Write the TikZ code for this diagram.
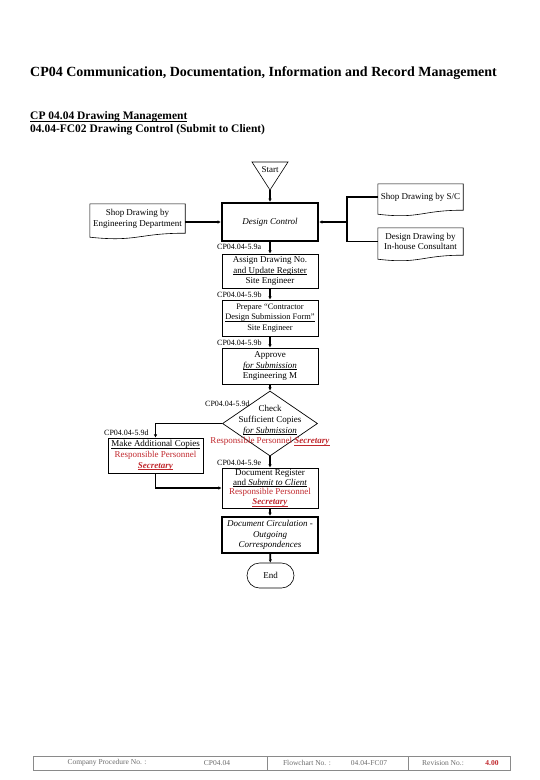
\documentclass[tikz,border=0pt]{standalone}
\usepackage{fontspec}
\setmainfont{Liberation Serif}
\usepackage{tikz}
\usetikzlibrary{arrows.meta,positioning,calc,shapes.geometric,shapes.misc}
\definecolor{respred}{HTML}{C0282D}
\definecolor{footgray}{HTML}{6B6B6B}
\definecolor{footline}{HTML}{8A8A8A}
\newcommand{\boxfont}{\fontsize{9}{10.8}\selectfont}
\newcommand{\ulin}[1]{\underline{\smash{#1}}\vphantom{Ag}}
\newcommand{\resp}{\textcolor{respred}{Responsible Personnel}}
\newcommand{\secy}{\textcolor{respred}{\ulin{\textbf{\textit{Secretary}}}}}
\tikzset{
  pagetitle/.style={font=\fontsize{14}{16}\selectfont\bfseries, inner sep=0pt, anchor=west},
  subhead/.style={font=\fontsize{11.5}{13}\selectfont\bfseries, inner sep=0pt,
    anchor=west, align=left},
  % flow boxes
  stepbox/.style={draw, line width=0.7pt, minimum width=96pt, minimum height=36pt,
    inner sep=0pt, align=center, font=\boxfont},
  keybox/.style={stepbox, line width=2.2pt},
  decision/.style={draw, diamond, line width=0.7pt, minimum width=95pt,
    minimum height=65pt, inner sep=0pt},
  docnode/.style={minimum height=26pt, inner sep=0pt, align=center, font=\boxfont},
  docline/.style={line width=0.6pt},
  terminal/.style={draw, rounded rectangle, line width=0.6pt, minimum width=47pt,
    minimum height=25pt, inner sep=0pt, font=\boxfont},
  plaintext/.style={inner sep=0pt, align=center, font=\boxfont},
  refnote/.style={font=\fontsize{8}{9}\selectfont, inner sep=0pt, anchor=west},
  % connectors
  wire/.style={line width=1.6pt},
  link/.style={wire, -{Latex[length=3.2pt,width=3.4pt]}},
  % footer
  footcell/.style={font=\fontsize{7.5}{9}\selectfont, text=footgray, inner sep=0pt},
  footrule/.style={draw=footline, line width=0.5pt},
}

\begin{document}
\begin{tikzpicture}[x=1pt,y=-1pt]
  \useasboundingbox (0,0) rectangle (540,780);
  % headings
  \node[pagetitle] (title) at (30,73)
    {CP04 Communication, Documentation, Information and Record Management};
  \node[subhead] (subtitle) at (30,123.5)
    {\ulin{CP 04.04 Drawing Management}\\04.04-FC02 Drawing Control (Submit to Client)};

  % start
  \draw[docline] (252,162) -- (288,162) -- (270,190) -- cycle;
  \node[plaintext] (start) at (270,170) {Start};
  \coordinate (starttip) at (270,190);

  % inputs
  \node[docnode, minimum width=95pt, minimum height=29pt] (engdoc) at (137.5,218.5)
    {Shop Drawing by\\Engineering Department};
  \node[docnode, minimum width=85pt] (scdoc) at (420.5,197) {Shop Drawing by S/C};
  \node[docnode, minimum width=85pt, minimum height=27pt] (consdoc) at (420.5,241.5)
    {Design Drawing by\\In-house Consultant};
  \foreach \d in {engdoc,scdoc,consdoc}
    \draw[docline] (\d.north west) -- (\d.north east) -- (\d.south east)
      .. controls (\d.south) and ($(\d.south)+(0,9)$) .. ($(\d.south west)+(0,4)$) -- cycle;

  % main column
  \node[keybox, minimum height=38pt] (dc) at (270,222) {\textit{Design Control}};
  \node[stepbox, minimum height=34pt] (assign) at (270,271)
    {Assign Drawing No.\\\ulin{and Update Register}\\Site Engineer};
  \node[stepbox, font=\fontsize{8.4}{10.8}\selectfont] (prepare) at (270,318)
    {Prepare ``Contractor\\\ulin{Design Submission Form''}\\Site Engineer};
  \node[stepbox] (approve) at (270,366)
    {Approve\\\ulin{\textit{for Submission}}\\Engineering M};
  \node[decision] (chk) at (270,423.5) {};
  \node[plaintext] (chktext) at (270,425.5)
    {Check\\Sufficient Copies\\\ulin{\textit{for Submission}}\\\resp{} \secy};
  \node[stepbox, minimum width=95pt, minimum height=35pt] (extra) at (155.5,455.5)
    {\ulin{Make Additional Copies}\\\resp\\\secy};
  \node[stepbox, minimum height=40pt, font=\fontsize{9}{9.8}\selectfont] (docreg) at (270,488)
    {Document Register\\\ulin{and \textit{Submit to Client}}\\\resp\\\secy};
  \node[keybox] (circ) at (270,535)
    {\textit{Document Circulation -}\\\textit{Outgoing}\\\textit{Correspondences}};
  \node[terminal] (endn) at (270.5,575.5) {End};

  % clause numbers
  \foreach \nm/\x/\y/\t in {refa/217/247/5.9a, refb/217/295/5.9b, refc/217/343/5.9b,
      refd/205/404/5.9d, refe/104/433/5.9d, reff/217/463/5.9e}
    \node[refnote] (\nm) at (\x,\y) {CP04.04-\t};

  % connectors
  \coordinate (join) at (347,222);
  \draw[link] (starttip) -- (dc.north);
  \draw[link] (engdoc.east |- dc.west) -- (dc.west);
  \draw[wire] (scdoc.west) -| (join);
  \draw[wire] (consdoc.west) -| (join);
  \draw[link] (join) -- (dc.east);
  \draw[link] (dc) -- (assign);
  \draw[link] (assign) -- (prepare);
  \draw[link] (prepare) -- (approve);
  \draw[link] (approve) -- (chk);
  \draw[link] (chk.west) -| (extra.north);
  \draw[link] (chk.south) -- (docreg.north);
  \draw[link] (extra.south) |- (docreg.west);
  \draw[link] (docreg) -- (circ);
  \draw[link] (circ) -- (endn);

  % footer
  \draw[footrule] (33,756) rectangle (510,770);
  \foreach \x in {267,408} \draw[footrule] (\x,756) -- (\x,770);
  \node[footcell] (cpno) at (107,763) {Company Procedure No. :};
  \node[footcell] (cpval) at (217,763) {CP04.04};
  \node[footcell] (fcno) at (307,763) {Flowchart No. :};
  \node[footcell] (fcval) at (369,763) {04.04-FC07};
  \node[footcell] (revno) at (443,763) {Revision No.:};
  \node[footcell, text=respred, font=\fontsize{7.5}{9}\selectfont\bfseries] (revval) at (492,763) {4.00};
\end{tikzpicture}
\end{document}
